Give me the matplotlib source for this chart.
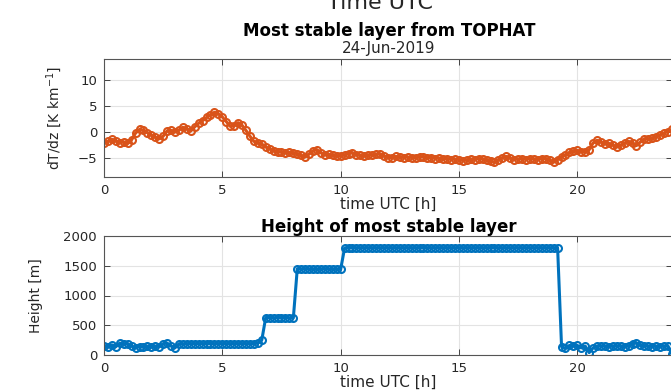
import numpy as np
import matplotlib
matplotlib.use('Agg')
import matplotlib.pyplot as plt

# ------------------- DATA ----------------
# time axis, 10 min steps over the day
hours = np.arange(145) / 6.0

# most stable layer gradient dT/dz [K/km]
dtdz = [
    -2.2, -1.9, -1.5, -1.8, -2.2, -2.0,
    -2.3, -1.6, -0.3, 0.4, 0.2, -0.2,
    -0.7, -1.1, -1.4, -0.9, 0.1, 0.2,
    -0.1, 0.3, 0.8, 0.5, 0.1, 0.9,
    1.6, 2.1, 2.7, 3.2, 3.7, 3.4,
    2.8, 1.9, 1.0, 1.1, 1.7, 1.2,
    0.2, -0.9, -1.9, -2.2, -2.4, -3.0,
    -3.3, -3.7, -3.9, -4.0, -4.1, -4.0,
    -4.1, -4.3, -4.6, -4.9, -4.3, -3.7,
    -3.5, -4.1, -4.5, -4.4, -4.6, -4.7,
    -4.75, -4.5, -4.3, -4.1, -4.5, -4.6,
    -4.75, -4.5, -4.6, -4.4, -4.3, -4.7,
    -5.0, -5.1, -4.8, -4.9, -5.0, -4.9,
    -5.0, -5.1, -4.9, -4.9, -5.1, -5.0,
    -5.2, -5.1, -5.3, -5.2, -5.4, -5.3,
    -5.4, -5.6, -5.5, -5.3, -5.4, -5.2,
    -5.3, -5.5, -5.7, -5.9, -5.4, -5.0,
    -4.8, -5.1, -5.4, -5.3, -5.2, -5.4,
    -5.2, -5.3, -5.4, -5.2, -5.2, -5.5,
    -5.9, -5.4, -4.9, -4.5, -4.0, -3.8,
    -3.65, -3.9, -4.0, -3.5, -2.2, -1.7,
    -2.0, -2.4, -2.3, -2.6, -3.0, -2.6,
    -2.2, -1.9, -2.2, -2.7, -2.0, -1.4,
    -1.5, -1.3, -1.0, -0.6, -0.3, 0.0,
    0.4,
]

# height of the most stable layer [m]
height = [
    150, 130, 170, 140, 200, 180,
    190, 150, 120, 140, 130, 150,
    130, 150, 140, 190, 200, 150,
    120, 190, 180, 190, 190, 190,
    190, 190, 190, 190, 190, 190,
    190, 190, 190, 190, 190, 190,
    190, 190, 190, 200, 250, 630,
    630, 620, 630, 620, 630, 620,
    620, 1450, 1440, 1450, 1440, 1440,
    1440, 1440, 1450, 1440, 1440, 1440,
    1440, 1800, 1800, 1800, 1800, 1800,
    1800, 1800, 1800, 1800, 1800, 1800,
    1800, 1800, 1800, 1800, 1800, 1800,
    1800, 1800, 1800, 1800, 1800, 1800,
    1800, 1800, 1800, 1800, 1800, 1800,
    1800, 1800, 1800, 1800, 1800, 1800,
    1800, 1800, 1800, 1800, 1800, 1800,
    1800, 1800, 1800, 1800, 1800, 1800,
    1800, 1800, 1800, 1800, 1800, 1800,
    1800, 1800, 140, 110, 160, 150,
    160, 120, 150, 40, 120, 150,
    150, 150, 140, 150, 150, 150,
    140, 150, 190, 200, 160, 150,
    150, 140, 150, 140, 150, 150,
    10,
]

xticks = [0, 5, 10, 15, 20]

# ---------------- STYLE -------------------------
ORANGE = '#D95319'
BLUE = '#0072BD'
DARK = '#262626'

plt.rcParams['font.family'] = 'DejaVu Sans'

fig = plt.figure(figsize=(6.71, 3.92), dpi=100)
W, H = 671., 392.


def box(l, t, r, b):
    return [l / W, 1 - b / H, (r - l) / W, (b - t) / H]


def style(ax):
    ax.grid(True, color='#e3e3e3', lw=0.8)
    ax.set_axisbelow(True)
    for s in ax.spines.values():
        s.set_color('#555555')
        s.set_linewidth(0.8)
    ax.tick_params(direction='in', length=4, width=0.7, color='#444444',
                   top=True, right=True, labelsize=9.5, labelcolor=DARK, pad=5)
    ax.set_xlim(0, 24)
    ax.set_xticks(xticks)


ax1 = fig.add_axes(box(104, 59.5, 672, 177))
ax1.plot(hours, dtdz, '-o', color=ORANGE, lw=2.2, ms=5, mfc='none', mew=1.5)
style(ax1)
ax1.set_ylim(-8.75, 13.85)
ax1.set_yticks([-5, 0, 5, 10])
ax1.set_xlabel('time UTC [h]', fontsize=11, color=DARK, labelpad=0)
ax1.set_ylabel('dT/dz [K km$^{-1}$]', fontsize=10, color=DARK)
ax1.yaxis.set_label_coords(-0.07, 0.5)

ax2 = fig.add_axes(box(104, 236, 672, 355))
ax2.plot(hours, height, '-o', color=BLUE, lw=2.2, ms=5, mfc='none', mew=1.5)
style(ax2)
ax2.set_ylim(0, 2000)
ax2.set_yticks([0, 500, 1000, 1500, 2000])
ax2.set_xlabel('time UTC [h]', fontsize=11, color=DARK, labelpad=0)
ax2.set_ylabel('Height [m]', fontsize=10, color=DARK)
ax2.yaxis.set_label_coords(-0.107, 0.5)

# titles
cx = 389 / W
fig.text(380 / W, 1 - 9 / H, 'Time UTC', ha='center', va='baseline',
         fontsize=16, color=DARK)
fig.text(cx, 1 - 31 / H, 'Most stable layer from TOPHAT', ha='center',
         va='center', fontsize=12, fontweight='bold', color='black')
fig.text(cx, 1 - 48 / H, '24-Jun-2019', ha='center', va='center',
         fontsize=11, color=DARK)
fig.text(cx, 1 - 227 / H, 'Height of most stable layer', ha='center',
         va='center', fontsize=12, fontweight='bold', color='black')

fig.savefig('out.png', dpi=100)
